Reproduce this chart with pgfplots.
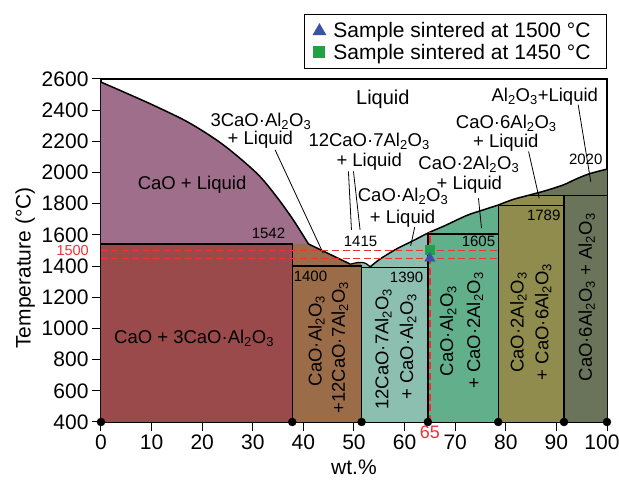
\documentclass[border=0pt]{standalone}
\usepackage{fontspec}
\setmainfont{Liberation Sans}
\usepackage{pgfplots}
\pgfplotsset{compat=1.18}
\definecolor{cpurple}{HTML}{9E6E8B}
\definecolor{cdred}{HTML}{9A4A4A}
\definecolor{cbrown}{HTML}{9B6C48}
\definecolor{cteal}{HTML}{8CBFAF}
\definecolor{cgreen}{HTML}{62AF8C}
\definecolor{colive}{HTML}{8F8C4E}
\definecolor{cdark}{HTML}{6A745A}
\definecolor{cred}{HTML}{EE3333}
\definecolor{cblue}{HTML}{3E52A5}
\definecolor{cgr}{HTML}{22A045}
\newcommand{\ao}{Al\textsubscript{2}O\textsubscript{3}}
\newcommand{\lblf}{\fontsize{18.5}{22}\selectfont}
\newcommand{\numf}{\fontsize{15}{18}\selectfont}
\begin{document}
\begin{tikzpicture}
\begin{axis}[
  scale only axis, width=506pt, height=343pt,
  xmin=0, xmax=100, ymin=400, ymax=2600,
  xtick={0,10,...,100}, ytick={400,600,...,2600},
  xticklabels={0,10,20,30,40,50,60,70,80,90,{\hspace*{-10pt}100}},
  scaled ticks=false,
  tick align=outside, xtick pos=bottom, ytick pos=left,
  major tick length=9pt,
  every tick/.style={black, line width=1pt},
  axis line style={line width=1.3pt, black},
  tick label style={font=\fontsize{21}{24}\selectfont},
  /pgf/number format/assume math mode=true,
  /pgf/number format/1000 sep={},
  xlabel={wt.\%}, ylabel={Temperature (°C)},
  label style={font=\fontsize{21}{24}\selectfont},
  xlabel style={at={(axis description cs:0.5,-0.131)}, anchor=center},
  ylabel style={at={(axis description cs:-0.150,0.449)}, anchor=center},
  extra x ticks={65}, extra x tick labels={65}, extra y ticks={1500}, extra y tick labels={1500},
  extra x tick style={major tick length=0pt, tick label style={text=cred, font=\fontsize{18}{20}\selectfont}},
  extra y tick style={major tick length=0pt, tick label style={text=cred, font=\fontsize{14.5}{16}\selectfont, inner sep=0pt, xshift=-12pt}},
  legend style={at={(axis description cs:1,1.029)}, anchor=south east, draw=black, line width=1pt,
    font=\fontsize{21}{24}\selectfont, row sep=0pt, inner xsep=3pt, inner ysep=5.5pt,
    nodes={inner xsep=2pt, inner ysep=2.3pt}},
  legend cell align=left,
  legend image code/.code={\path[draw=none] (0pt,-5pt) rectangle (24pt,5pt); \path[#1, draw=none] plot coordinates {(12pt,0pt)};},
]
\addlegendimage{mark=triangle*, mark size=7pt, color=cblue, mark options={draw=cblue, fill=cblue}}
\addlegendentry{Sample sintered at 1500 °C\hspace*{11pt}}
\addlegendimage{mark=square*, mark size=5.5pt, color=cgr, mark options={draw=cgr, fill=cgr}}
\addlegendentry{Sample sintered at 1450 °C\hspace*{11pt}}

% ---- fills
\addplot[fill=cpurple, draw=none, smooth] coordinates {(0,2580) (4.4,2518) (11,2422) (17.6,2316) (24.2,2177) (30.8,1995) (34.7,1845) (38,1696) (41,1542)} \closedcycle;
\addplot[fill=cbrown, draw=none] coordinates {(37.8,1542) (41,1542) (49.3,1412) (50.4,1421) (51.5,1424)} \closedcycle;
\addplot[fill=cteal, draw=none] coordinates {(51.5,1424) (52.3,1418) (53.2,1395) (55.1,1444) (58.4,1510) (61.7,1563) (64.6,1612)} \closedcycle;
\addplot[fill=cgreen, draw=none] coordinates {(64.6,1612) (68,1660) (72.3,1725) (75.5,1760) (78.5,1792)} \closedcycle;
\addplot[fill=cdark, draw=none] coordinates {(84.6,1855) (88,1885) (91.4,1921) (94,1960) (96.6,1993) (100,2022)} \closedcycle;
\addplot[fill=colive, draw=none] coordinates {(78.5,1792) (81.5,1828) (84.6,1855) (91.5,1855)} \closedcycle;
\addplot[fill=cdred, draw=none] coordinates {(0,1542) (37.8,1542)} \closedcycle;

% ---- liquidus
\addplot[black, line width=1.5pt, smooth] coordinates {(0,2580) (4.4,2518) (11,2422) (17.6,2316) (24.2,2177) (30.8,1995) (34.7,1845) (38,1696) (41,1542)};
\addplot[black, line width=1.5pt] coordinates {(41,1542) (49.3,1412)};
\addplot[black, line width=1.2pt, smooth] coordinates {(49.3,1412) (50.4,1421) (51.5,1424) (52.3,1418) (53.2,1395)};
\addplot[black, line width=1.5pt, smooth] coordinates {(53.2,1395) (55.1,1444) (58.4,1510) (61.7,1563) (64.6,1612) (68,1660) (72.3,1725) (75.5,1760) (78.5,1792) (81.5,1828) (84.6,1855) (88,1885) (91.4,1921) (94,1960) (96.6,1993) (100,2022)};

% ---- phase boxes
\addplot[black, line width=1.3pt] coordinates {(0,1542) (37.8,1542) (37.8,400)};
\addplot[black, line width=1.3pt] coordinates {(37.8,1400) (51.5,1400)};
\addplot[black, line width=1.3pt] coordinates {(51.5,400) (51.5,1400)};
\addplot[black, line width=1.3pt] coordinates {(51.5,1393) (64.6,1393)};
\addplot[black, line width=1.3pt] coordinates {(64.6,400) (64.6,1612)};
\addplot[black, line width=1.3pt] coordinates {(64.6,1605) (78.5,1605)};
\addplot[black, line width=1.3pt] coordinates {(78.5,400) (78.5,1792)};
\addplot[black, line width=1.3pt] coordinates {(78.5,1789) (91.5,1789)};
\addplot[black, line width=1.3pt] coordinates {(91.5,400) (91.5,1855)};
\addplot[black, line width=1.3pt] coordinates {(84.6,1855) (100,1855)};

% ---- leader lines
\addplot[black, line width=0.8pt] coordinates {(34.4,2146) (43.9,1483)};
\addplot[black, line width=0.8pt] coordinates {(48.9,2007) (49.5,1632)};
\addplot[black, line width=0.8pt] coordinates {(49.9,2007) (51.2,1632)};
\addplot[black, line width=0.8pt] coordinates {(62.0,1650) (61.2,1530)};
\addplot[black, line width=0.8pt] coordinates {(74.6,1835) (75.2,1643)};
\addplot[black, line width=0.8pt] coordinates {(84.5,2135) (86.6,1835)};
\addplot[black, line width=0.8pt] coordinates {(94.3,2435) (96.8,1940)};

% ---- red dashed guides
\addplot[cred, line width=1.5pt, dash pattern=on 7pt off 3.5pt] coordinates {(0,1500) (78.5,1500)};
\addplot[cred, line width=1.5pt, dash pattern=on 7pt off 3.5pt] coordinates {(0,1450) (78.5,1450)};
\addplot[cred, line width=1.5pt, dash pattern=on 7pt off 3.5pt] coordinates {(65,400) (65,1620)};

% ---- samples
\addplot[only marks, mark=square*, mark size=4.5pt, color=cgr] coordinates {(65,1505)};
\addplot[only marks, mark=triangle*, mark size=6pt, color=cblue] coordinates {(65,1450)};

% ---- invariant points
\addplot[only marks, mark=*, mark size=4pt, black] coordinates {(0,400) (37.8,400) (51.5,400) (64.6,400) (78.5,400) (91.5,400) (100,400)};

% ---- labels
\begin{scope}[every node/.style={inner sep=0pt}]
\node[font=\lblf] at (18,1921) {CaO + Liquid};
\node[font=\fontsize{20}{24}\selectfont] at (55.7,2467) {Liquid};
\node[font=\lblf] at (31.6,2327) {3CaO·\ao};
\node[font=\lblf] at (31.5,2210) {+ Liquid};
\node[font=\lblf] at (53,2199) {12CaO·7\ao};
\node[font=\lblf] at (53,2070) {+ Liquid};
\node[font=\lblf] at (59.7,1846) {CaO·\ao};
\node[font=\lblf] at (59.6,1707) {+ Liquid};
\node[font=\lblf] at (72.7,2050) {CaO·2\ao};
\node[font=\lblf] at (72.8,1921) {+ Liquid};
\node[font=\lblf] at (80.1,2317) {CaO·6\ao};
\node[font=\lblf] at (80,2189) {+ Liquid};
\node[font=\lblf] at (87.7,2488) {\ao+Liquid};
\node[font=\numf] at (95.8,2086) {2020};
\node[font=\numf] at (87.5,1724) {1789};
\node[font=\numf] at (74.6,1557) {1605};
\node[font=\numf] at (51.3,1557) {1415};
\node[font=\numf] at (33.1,1611) {1542};
\node[font=\numf] at (41.4,1337) {1400};
\node[font=\numf] at (60.4,1326) {1390};
\node[font=\lblf] at (18.4,939) {CaO + 3CaO·\ao};
\node[font=\lblf, rotate=90] at (42.6,920) {CaO·\ao};
\node[font=\lblf, rotate=90] at (47.2,878) {+12CaO·7\ao};
\node[font=\lblf, rotate=90] at (55.8,868) {12CaO·7\ao};
\node[font=\lblf, rotate=90] at (60.7,884) {+ CaO·\ao};
\node[font=\lblf, rotate=90] at (68.6,984) {CaO·\ao};
\node[font=\lblf, rotate=90] at (73.9,987) {+ CaO·2\ao};
\node[font=\lblf, rotate=90] at (82.5,1039) {CaO·2\ao};
\node[font=\lblf, rotate=90] at (87.4,1043) {+ CaO·6\ao};
\node[font=\lblf, rotate=90] at (96.0,1200) {CaO·6\ao{} + \ao};
\end{scope}
\end{axis}
\pgfresetboundingbox
\path[use as bounding box] (-101pt,-60pt) rectangle (518pt,422pt);
\end{tikzpicture}
\end{document}
